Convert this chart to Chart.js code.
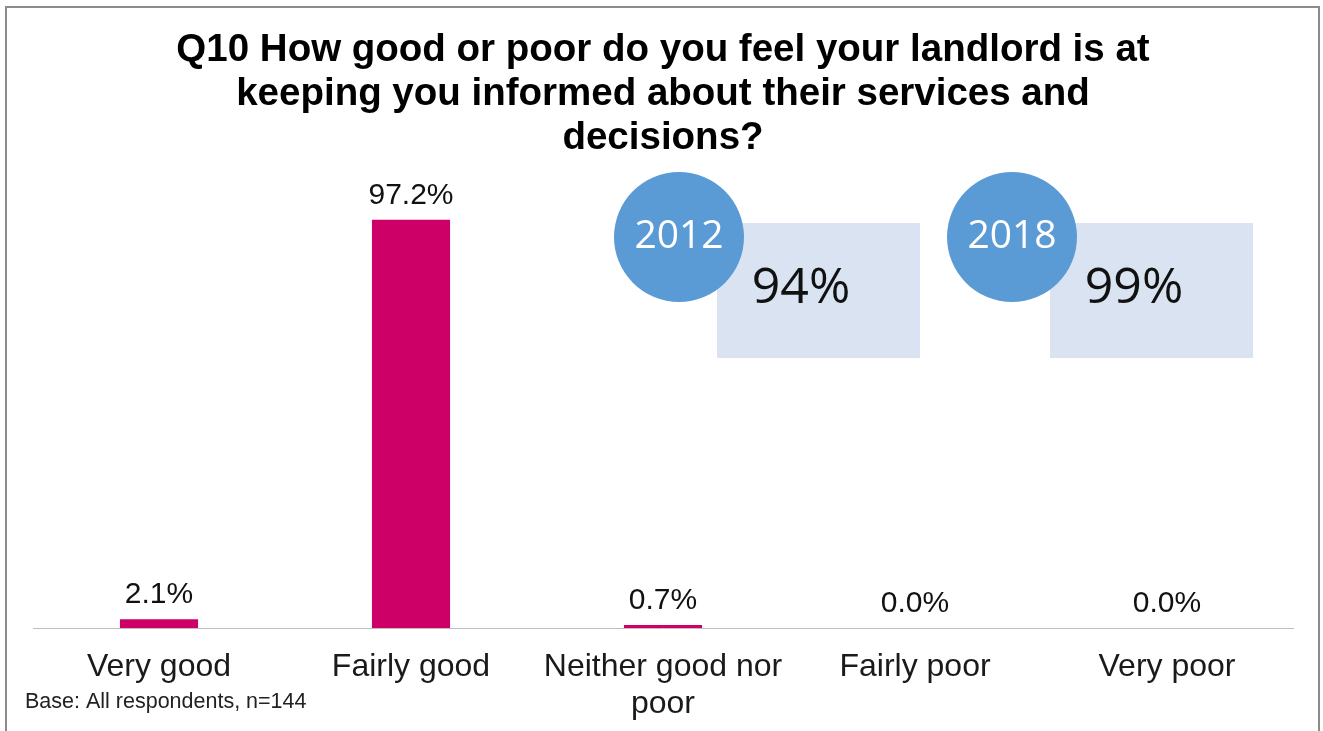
<!DOCTYPE html>
<html>
<head>
<meta charset="utf-8">
<title>Q10 Keeping you informed</title>
<script src="https://cdn.jsdelivr.net/npm/chart.js@4/dist/chart.umd.min.js"></script>
<style>
    html, body { margin: 0; padding: 0; background: #ffffff; }
    canvas { display: block; }
</style>
</head>
<body>
<canvas id="chartCanvas" width="1323" height="731"></canvas>
<script>
// Survey answers and share of respondents (%)
const categories = ['Very good', 'Fairly good', ['Neither good nor', 'poor'], 'Fairly poor', 'Very poor'];
const responseShares = [2.1, 97.2, 0.7, 0.0, 0.0];

// Satisfaction in earlier and latest survey waves
const waveYears = ['2012', '2018'];
const waveScores = ['94%', '99%'];

const titleLines = [
    'Q10 How good or poor do you feel your landlord is at',
    'keeping you informed about their services and',
    'decisions?'
];
const baseNote = 'Base: All respondents, n=144';

const FONT = '"Liberation Sans", Arial, sans-serif';
const BAR_COLOR = '#cc0066';

// Value labels sitting above each bar
const valueLabels = {
    id: 'valueLabels',
    afterDatasetsDraw(chart) {
        const ctx = chart.ctx;
        const meta = chart.getDatasetMeta(0);
        ctx.save();
        ctx.font = '30px ' + FONT;
        ctx.fillStyle = '#111111';
        ctx.textAlign = 'center';
        ctx.textBaseline = 'alphabetic';
        meta.data.forEach((bar, i) => {
            ctx.fillText(responseShares[i].toFixed(1) + '%', bar.x, bar.y - 16);
        });
        ctx.restore();
    }
};

// Year bubbles with the overall score box, plus the base note and frame
const extras = {
    id: 'extras',
    afterDraw(chart) {
        const ctx = chart.ctx;
        const bubbleX = [679, 1012];
        const bubbleY = 237;
        const radius = 65;

        ctx.save();
        waveYears.forEach((year, i) => {
            const cx = bubbleX[i];
            // score box behind the bubble
            ctx.fillStyle = '#d9e3f1';
            ctx.fillRect(cx + 38, bubbleY - 14, 203, 135);

            ctx.fillStyle = '#111111';
            ctx.font = '50px "Open Sans", sans-serif';
            ctx.textAlign = 'center';
            ctx.textBaseline = 'middle';
            ctx.fillText(waveScores[i], cx + 122, bubbleY + 52);

            ctx.beginPath();
            ctx.arc(cx, bubbleY, radius, 0, Math.PI * 2);
            ctx.fillStyle = '#5b9bd5';
            ctx.fill();

            ctx.fillStyle = '#ffffff';
            ctx.font = '39px "Open Sans", sans-serif';
            ctx.fillText(year, cx, bubbleY);
        });

        ctx.font = '21.5px ' + FONT;
        ctx.fillStyle = '#222222';
        ctx.textAlign = 'left';
        ctx.textBaseline = 'middle';
        ctx.fillText(baseNote, 25, 702);

        // outer frame (open at the bottom)
        ctx.strokeStyle = '#8c8c8c';
        ctx.lineWidth = 2;
        ctx.strokeRect(6, 7, 1313, 740);
        ctx.restore();
    }
};

const ctx = document.getElementById('chartCanvas').getContext('2d');
new Chart(ctx, {
    type: 'bar',
    data: {
        labels: categories,
        datasets: [{
            data: responseShares,
            backgroundColor: BAR_COLOR,
            borderWidth: 0,
            categoryPercentage: 1,
            barPercentage: 0.31
        }]
    },
    options: {
        responsive: false,
        animation: false,
        layout: {
            padding: { left: 33, right: 30, top: 0, bottom: 0 }
        },
        plugins: {
            legend: { display: false },
            tooltip: { enabled: false },
            title: {
                display: true,
                text: titleLines,
                color: '#000000',
                font: { family: FONT, size: 38.5, weight: 'bold', lineHeight: 44 / 38.5 },
                padding: { top: 28, bottom: 48 }
            }
        },
        scales: {
            y: {
                display: false,
                min: 0,
                max: 100
            },
            x: {
                grid: { display: false, drawTicks: false },
                border: { display: true, color: '#bdbdbd', width: 1, dash: [3, 2] },
                ticks: {
                    color: '#1a1a1a',
                    font: { family: FONT, size: 32, lineHeight: 1.15 },
                    padding: 21,
                    maxRotation: 0,
                    autoSkip: false
                },
                // fixed axis band so the baseline sits where the labels need it
                afterFit(scale) {
                    scale.height = 103;
                }
            }
        }
    },
    plugins: [valueLabels, extras]
});
</script>
</body>
</html>
